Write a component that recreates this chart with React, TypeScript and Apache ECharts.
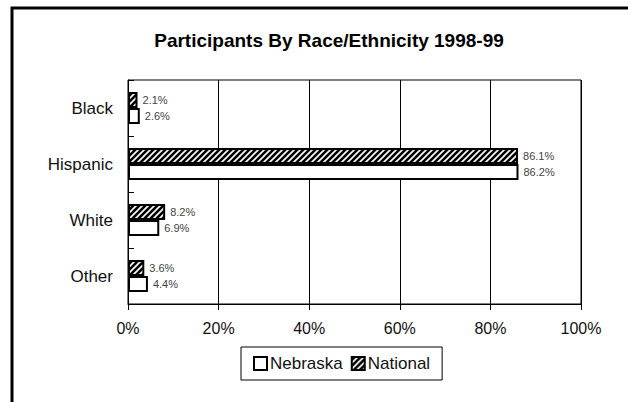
import React, { useEffect, useRef } from "react";
import * as echarts from "echarts";

const categories = ["Other", "White", "Hispanic", "Black"];
const nebraska = [4.4, 6.9, 86.2, 2.6];
const national = [3.6, 8.2, 86.1, 2.1];
const xTicks = [0, 20, 40, 60, 80, 100];
const titleText = "Participants By Race/Ethnicity 1998-99";

const FONT = "'Liberation Sans Narrow', 'Arial Narrow', 'Liberation Sans', sans-serif";

function makeHatch(): HTMLCanvasElement {
  const c = document.createElement("canvas");
  c.width = 6;
  c.height = 6;
  const ctx = c.getContext("2d")!;
  ctx.fillStyle = "#000";
  ctx.fillRect(0, 0, 6, 6);
  ctx.strokeStyle = "#fff";
  ctx.lineWidth = 1.6;
  ctx.beginPath();
  ctx.moveTo(-1, 7);
  ctx.lineTo(7, -1);
  ctx.moveTo(-1, 1);
  ctx.lineTo(1, -1);
  ctx.moveTo(5, 7);
  ctx.lineTo(7, 5);
  ctx.stroke();
  return c;
}

export default function App() {
  const ref = useRef<HTMLDivElement>(null);
  useEffect(() => {
    document.body.style.margin = "0";
    const chart = echarts.init(ref.current!, null, { renderer: "svg" });
    const hatch = { image: makeHatch(), repeat: "repeat" } as any;
    const labelStyle = {
      show: true,
      position: "right" as const,
      distance: 5,
      fontFamily: FONT,
      fontSize: 11,
      color: "#444",
      formatter: (p: any) => p.value.toFixed(1) + "%",
    };
    chart.setOption({
      animation: false,
      backgroundColor: "#fff",
      textStyle: { fontFamily: FONT },
      graphic: [
        {
          type: "rect",
          shape: { x: 12, y: 8, width: 700, height: 500 },
          style: { fill: "none", stroke: "#000", lineWidth: 3 },
          silent: true,
        },
        {
          type: "text",
          x: 329,
          y: 40,
          style: {
            text: titleText,
            fontFamily: FONT,
            fontWeight: "bold",
            fontSize: 19,
            fill: "#000",
            align: "center",
            verticalAlign: "middle",
          },
        },
      ],
      grid: {
        left: 128,
        right: 47,
        top: 80,
        bottom: 98,
        show: true,
        borderColor: "#000",
        borderWidth: 1,
      },
      legend: {
        left: 241,
        top: 347,
        data: ["Nebraska", "National"],
        orient: "horizontal",
        borderColor: "#000",
        borderWidth: 1,
        padding: [8, 12, 8, 12],
        itemGap: 8,
        itemWidth: 13,
        itemHeight: 13,
        icon: "rect",
        textStyle: { fontFamily: FONT, fontSize: 17, color: "#111", padding: [0, 0, 0, -2] },
      },
      xAxis: {
        type: "value",
        min: 0,
        max: 100,
        interval: 20,
        axisLine: { show: true, lineStyle: { color: "#000", width: 1 } },
        axisTick: { show: true, length: 6, lineStyle: { color: "#000" } },
        splitLine: { show: true, lineStyle: { color: "#000", width: 1 } },
        axisLabel: {
          formatter: (v: number) => (xTicks.includes(v) ? v + "%" : ""),
          fontFamily: FONT,
          fontSize: 16,
          color: "#111",
          margin: 16,
        },
      },
      yAxis: {
        type: "category",
        data: categories,
        axisLine: { show: true, lineStyle: { color: "#000", width: 1 } },
        axisTick: { show: true, inside: true, length: 6, lineStyle: { color: "#000" } },
        axisLabel: { fontFamily: FONT, fontSize: 17, color: "#111", margin: 15 },
      },
      series: [
        {
          name: "National",
          type: "bar",
          data: national,
          barWidth: 16,
          barGap: "0%",
          barCategoryGap: "43%",
          itemStyle: { color: hatch, borderColor: "#000", borderWidth: 2 },
          label: labelStyle,
        },
        {
          name: "Nebraska",
          type: "bar",
          data: nebraska,
          barWidth: 16,
          barGap: "0%",
          barCategoryGap: "43%",
          itemStyle: { color: "#fff", borderColor: "#000", borderWidth: 2 },
          label: labelStyle,
        },
      ],
    });
    return () => chart.dispose();
  }, []);
  return <div ref={ref} style={{ width: 628, height: 402 }} />;
}
